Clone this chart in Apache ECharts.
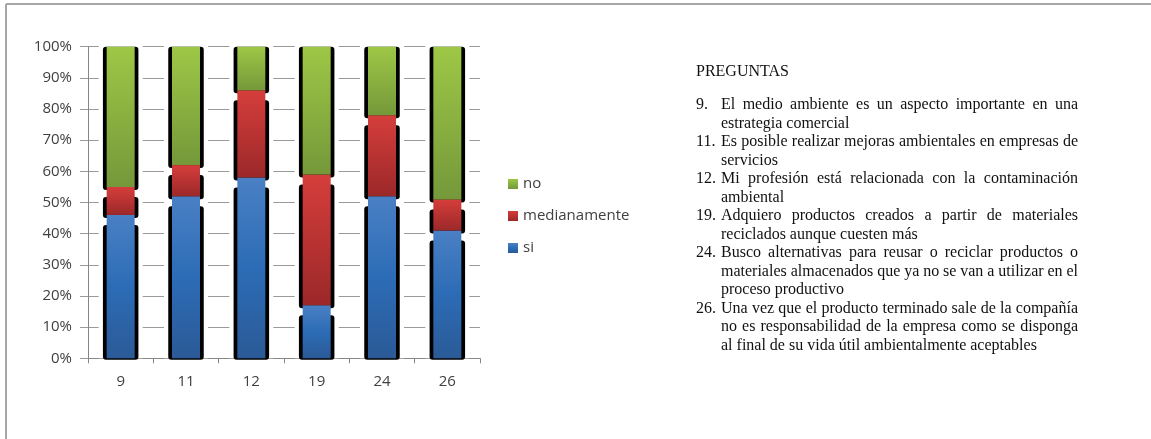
<!DOCTYPE html>
<html>
<head>
<meta charset="utf-8">
<script src="https://cdn.jsdelivr.net/npm/echarts@6/dist/echarts.min.js"></script>
<style>
  html, body { margin: 0; padding: 0; background: #fff; }
  #chart { width: 1151px; height: 439px; }
</style>
</head>
<body>
<div id="chart"></div>
<script>
// ---- data ----
const categories = ['9', '11', '12', '19', '24', '26'];
const siValues = [46, 52, 58, 17, 52, 41];
const medianamenteValues = [9, 10, 28, 42, 26, 10];
const noValues = [45, 38, 14, 41, 22, 49];
const seriesNames = ['si', 'medianamente', 'no'];
const legendOrder = ['no', 'medianamente', 'si'];
const yTickValues = [0, 10, 20, 30, 40, 50, 60, 70, 80, 90, 100];

const heading = 'PREGUNTAS';
const questionNumbers = ['9.', '11.', '12.', '19.', '24.', '26.'];
const questionLines = [
  ['El medio ambiente es un aspecto importante en una', 'estrategia comercial'],
  ['Es posible realizar mejoras ambientales en empresas de', 'servicios'],
  ['Mi profesión está relacionada con la contaminación', 'ambiental'],
  ['Adquiero productos creados a partir de materiales', 'reciclados aunque cuesten más'],
  ['Busco alternativas para reusar o reciclar productos o', 'materiales almacenados que ya no se van a utilizar en el', 'proceso productivo'],
  ['Una vez que el producto terminado sale de la compañía', 'no es responsabilidad de la empresa como se disponga', 'al final de su vida útil ambientalmente aceptables']
];

// ---- styles ----
const grad = (a, b, c) => ({
  type: 'linear', x: 0, y: 0, x2: 0, y2: 1,
  colorStops: c ? [{ offset: 0, color: a }, { offset: 0.5, color: b }, { offset: 1, color: c }]
                : [{ offset: 0, color: a }, { offset: 1, color: b }]
});
const colors = {
  si: grad('#4a80c4', '#2c6cb6', '#2b5a97'),
  medianamente: grad('#d53e3b', '#9c2829'),
  no: grad('#9ec746', '#75983a')
};
const valuesByName = { si: siValues, medianamente: medianamenteValues, no: noValues };

const chart = echarts.init(document.getElementById('chart'), null, { renderer: 'canvas' });

// outline (black bezel with white halo) drawn with the axes' own scales
const outlineData = categories.map((c, i) => [i, siValues[i], medianamenteValues[i], noValues[i]]);
function renderOutline(params, api) {
  const i = api.value(0);
  const s = api.value(1), m = api.value(2), n = api.value(3);
  const p0 = api.coord([i, 0]);
  const x = p0[0];
  const y0 = p0[1];
  const y1 = api.coord([i, s])[1];
  const y2 = api.coord([i, s + m])[1];
  const y3 = api.coord([i, s + m + n])[1];
  const hw = 17.75, halo = 22;
  const black = (top, bottom) => ({
    type: 'rect',
    shape: { x: x - hw, y: top, width: hw * 2, height: Math.max(0, bottom - top), r: 3 },
    style: { fill: '#000' }
  });
  return {
    type: 'group',
    children: [
      { type: 'rect', shape: { x: x - halo, y: y3 - 1, width: halo * 2, height: y0 - y3 + 1 }, style: { fill: '#fff' } },
      black(y3, y2 + 3),
      black(y2 + 10, y1 + 3),
      black(y1 + 10, y0 + 1.5)
    ]
  };
}

// justified question text, placed word by word
const TEXT_FONT = '16px "Liberation Serif"';
const measureCtx = document.createElement('canvas').getContext('2d');
measureCtx.font = TEXT_FONT;
const graphics = [];
function addText(str, x, y) {
  graphics.push({
    type: 'text', x: x, y: y, silent: true,
    style: { text: str, font: TEXT_FONT, fill: '#111', textAlign: 'left', align: 'left', textVerticalAlign: 'middle', verticalAlign: 'middle' }
  });
}
const numX = 696, textLeft = 721, textRight = 1078;
addText(heading, 696, 72);
let lineY = 105;
const lineStep = 18.5;
questionLines.forEach((lines, qi) => {
  addText(questionNumbers[qi], numX, lineY);
  lines.forEach((line, li) => {
    const justify = li < lines.length - 1;
    const words = line.split(' ');
    if (justify && words.length > 1) {
      const widths = words.map(w => measureCtx.measureText(w).width);
      const total = widths.reduce((a, b) => a + b, 0);
      const gap = (textRight - textLeft - total) / (words.length - 1);
      let cx = textLeft;
      words.forEach((w, wi) => { addText(w, cx, lineY); cx += widths[wi] + gap; });
    } else {
      addText(line, textLeft, lineY);
    }
    lineY += lineStep;
  });
});
// frame lines
graphics.push({ type: 'line', silent: true, shape: { x1: 6, y1: 4, x2: 1151, y2: 4 }, style: { stroke: '#a6a6a6', lineWidth: 2 } });
graphics.push({ type: 'line', silent: true, shape: { x1: 6, y1: 4, x2: 6, y2: 439 }, style: { stroke: '#a6a6a6', lineWidth: 2 } });

const axisFont = { fontFamily: '"Open Sans", sans-serif', fontSize: 15, color: '#404040' };

const option = {
  animation: false,
  backgroundColor: '#fff',
  grid: { left: 88, right: 671, top: 46.7, bottom: 80.7, containLabel: false },
  legend: {
    orient: 'vertical', left: 503, top: 170,
    data: legendOrder,
    itemWidth: 10, itemHeight: 10, itemGap: 14,
    icon: 'rect',
    textStyle: Object.assign({ lineHeight: 18 }, axisFont)
  },
  xAxis: {
    type: 'category', data: categories,
    axisLine: { lineStyle: { color: '#868686', width: 1 } },
    axisTick: { show: true, length: 5, lineStyle: { color: '#868686' } },
    axisLabel: Object.assign({ margin: 16 }, axisFont),
    splitLine: { show: false }
  },
  yAxis: {
    type: 'value', min: 0, max: 100, interval: 10,
    axisLine: { show: true, lineStyle: { color: '#868686', width: 1 } },
    axisTick: { show: true, length: 8, lineStyle: { color: '#9a9a9a' } },
    axisLabel: Object.assign({ margin: 16, formatter: v => (yTickValues.indexOf(v) >= 0 ? v + '%' : '') }, axisFont),
    splitLine: { show: true, lineStyle: { color: '#9a9a9a', width: 1 } }
  },
  graphic: { elements: graphics },
  series: [
    {
      type: 'custom', name: 'outline', z: 1, silent: true,
      renderItem: renderOutline,
      encode: { x: 0, y: 1 },
      data: outlineData
    }
  ].concat(seriesNames.map(name => ({
    type: 'bar', name: name, stack: 'total', z: 3,
    barWidth: 28,
    itemStyle: { color: colors[name] },
    emphasis: { disabled: true },
    data: valuesByName[name]
  })))
};
chart.setOption(option);
</script>
</body>
</html>
